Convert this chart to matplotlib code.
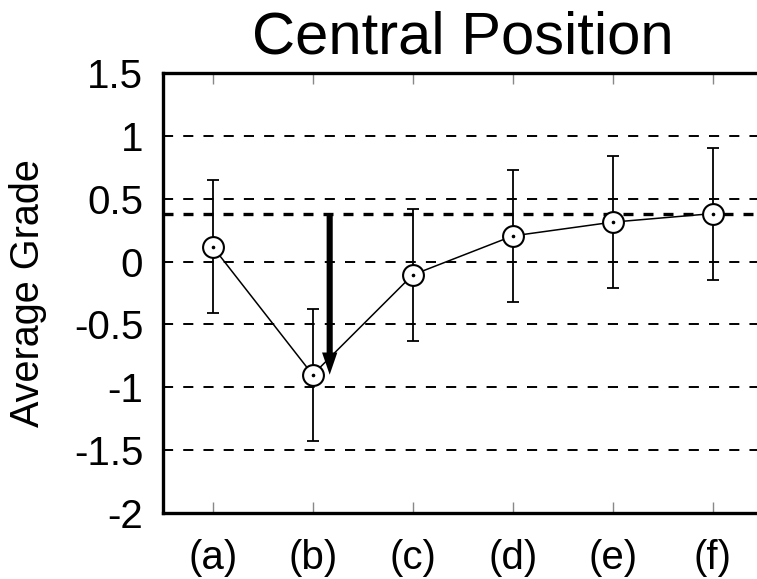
import matplotlib
matplotlib.use("Agg")
import matplotlib.pyplot as plt
import numpy as np

plt.rcParams["font.family"] = ["Liberation Sans", "DejaVu Sans"]
plt.rcParams["axes.unicode_minus"] = False

# average grade per condition, with standard deviation
conditions = ["(a)", "(b)", "(c)", "(d)", "(e)", "(f)"]
mean_grade = [0.12, -0.90, -0.105, 0.205, 0.315, 0.383]
std_grade = [0.527, 0.526, 0.526, 0.528, 0.525, 0.526]

y_ticks = [1.5, 1, 0.5, 0, -0.5, -1, -1.5, -2]
y_tick_labels = ["1.5", "1", "0.5", "0", "-0.5", "-1", "-1.5", "-2"]

# reference level = last condition, arrow drops to the worst one
ref_level = mean_grade[-1]
arrow_x = 2.17
arrow_to = mean_grade[1]

x = np.arange(1, len(conditions) + 1)

fig = plt.figure(figsize=(7.57, 5.79), dpi=100)
ax = fig.add_axes([0.2149, 0.1142, 0.7926, 0.7592])

for v in y_ticks[1:-1]:
    ax.axhline(v, color="black", lw=1.4, ls=(0, (5.2, 5.2)), zorder=1)
ax.axhline(ref_level, color="black", lw=2.4, ls=(0, (3.0, 3.0)), zorder=2)

ax.errorbar(x, mean_grade, yerr=std_grade, color="black", lw=1.1,
            elinewidth=1.3, capsize=4, capthick=1.3, zorder=3)
ax.plot(x, mean_grade, ls="none", marker="o", ms=15, mfc="white",
        mec="black", mew=1.5, zorder=4)
ax.plot(x, mean_grade, ls="none", marker="o", ms=1.6, color="black", zorder=5)

ax.annotate("", xy=(arrow_x, arrow_to), xytext=(arrow_x, ref_level),
            arrowprops=dict(arrowstyle="simple,head_length=16,head_width=11,tail_width=4.4",
                            mutation_scale=1, color="black", lw=0,
                            shrinkA=0, shrinkB=0),
            zorder=6)

ax.set_xlim(0.5, 6.5)
ax.set_ylim(-2, 1.5)
ax.set_xticks(x)
ax.set_xticklabels(conditions, fontsize=29)
ax.set_yticks(y_ticks)
ax.set_yticklabels(y_tick_labels, fontsize=29)
ax.tick_params(axis="x", direction="in", length=8, width=1, color="#888888",
               top=True, pad=19)
ax.tick_params(axis="y", length=0, pad=14)

for sp in ax.spines.values():
    sp.set_linewidth(2.4)

ax.set_ylabel("Average Grade", fontsize=28.5)
ax.yaxis.set_label_coords(-0.192, 0.5)
ax.set_title("Central Position", fontsize=43, pad=14)

fig.savefig("out.png", dpi=100)
plt.close(fig)
